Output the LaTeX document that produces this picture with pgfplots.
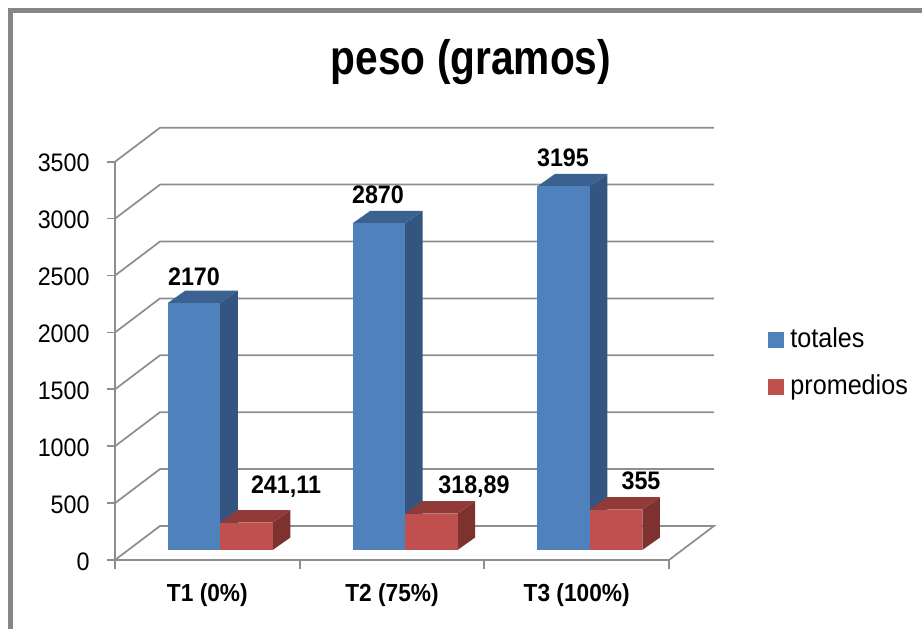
\documentclass[border=0pt]{standalone}
\usepackage{fontspec}
\setmainfont[FakeStretch=0.92]{Liberation Sans}
\newfontfamily\titlefont[FakeStretch=0.84]{Liberation Sans}
\usepackage{pgfplots}
\pgfplotsset{compat=1.18}
\definecolor{gridgray}{HTML}{8E8E8E}
\definecolor{framegray}{HTML}{868686}
\definecolor{bluefront}{HTML}{4F81BD}
\definecolor{blueside}{HTML}{34557F}
\definecolor{bluetop}{HTML}{3B6190}
\definecolor{redfront}{HTML}{C0504D}
\definecolor{redside}{HTML}{7D3230}
\definecolor{redtop}{HTML}{923A38}
% one 3D column: #1 left x, #2 value, #3 front, #4 side, #5 top
\newcommand\columnthreeD[5]{%
  \pgfmathsetmacro\xa{#1}%
  \pgfmathsetmacro\xb{#1+0.2843}%
  \pgfmathsetmacro\xc{#1+0.2843+0.0958}%
  \pgfmathsetmacro\xd{#1+0.0958}%
  \pgfmathsetmacro\ya{88}%
  \pgfmathsetmacro\yb{88+#2}%
  \pgfmathsetmacro\yc{88+#2+110}%
  \pgfmathsetmacro\ye{88+110}%
  \edef\temp{%
  \noexpand\addplot[forget plot,draw=none,fill=#4] coordinates {(\xb,\ya) (\xc,\ye) (\xc,\yc) (\xb,\yb)} --cycle;
  \noexpand\addplot[forget plot,draw=none,fill=#5] coordinates {(\xa,\yb) (\xd,\yc) (\xc,\yc) (\xb,\yb)} --cycle;
  \noexpand\addplot[forget plot,draw=none,fill=#3] coordinates {(\xa,\ya) (\xb,\ya) (\xb,\yb) (\xa,\yb)} --cycle;
  }\temp
}
\begin{document}
\begin{tikzpicture}
\useasboundingbox (0,0) rectangle (691.5pt,471.75pt);
\fill[framegray] (6pt,0pt) rectangle (9.75pt,465.75pt);
\fill[framegray] (6pt,462pt) rectangle (691.5pt,465.75pt);
\begin{axis}[
  at={(86.25pt,51.75pt)}, anchor=south west,
  scale only axis, width=415.5pt, height=298.7pt,
  xmin=-0.5, xmax=2.5, ymin=0, ymax=3500,
  clip=false,
  axis x line*=bottom, axis y line*=left,
  axis line style={draw=gridgray,line width=1.3pt,-},
  tick align=outside,
  xtick={0,1,2},
  xticklabels={T1 (0\%),T2 (75\%),T3 (100\%)},
  minor xtick={-0.5,0.5,1.5,2.5},
  ytick={0,500,1000,1500,2000,2500,3000,3500},
  x tick style={draw=none},
  minor x tick style={draw=gridgray,line width=1.3pt},
  y tick style={draw=gridgray,line width=1.3pt},
  minor tick length=6.5pt,
  major tick length=6pt,
  /pgf/number format/assume math mode=true,
  /pgf/number format/1000 sep={},
  tick label style={font=\fontsize{19}{22}\selectfont},
  x tick label style={font=\fontsize{18.5}{22}\selectfont\bfseries,yshift=-8pt},
  y tick label style={xshift=-9.5pt,yshift=-1pt},
  title={peso (gramos)},
  title style={at={(0.6426,1.231)},anchor=center,yshift=0pt,font=\titlefont\fontsize{36.3}{42}\selectfont\bfseries},
  legend style={at={(1.1787,0.497)},anchor=west,draw=none,fill=none,inner sep=0pt,
    font=\fontsize{20.5}{24}\selectfont,/tikz/row sep=15pt},
  legend cell align=left,
  legend image code/.code={\fill[#1] (0pt,-6.6pt) rectangle (11.25pt,4.65pt);\path (14.25pt,0pt);},
]
% walls and floor
\addplot[forget plot,gridgray,line width=1.3pt] coordinates {(-0.5,0) (-0.2563,299) (2.7436,299) (2.5,0)};
\addplot[forget plot,gridgray,line width=1.3pt] coordinates {(-0.5,500) (-0.2563,799) (2.7436,799)};
\addplot[forget plot,gridgray,line width=1.3pt] coordinates {(-0.5,1000) (-0.2563,1299) (2.7436,1299)};
\addplot[forget plot,gridgray,line width=1.3pt] coordinates {(-0.5,1500) (-0.2563,1799) (2.7436,1799)};
\addplot[forget plot,gridgray,line width=1.3pt] coordinates {(-0.5,2000) (-0.2563,2299) (2.7436,2299)};
\addplot[forget plot,gridgray,line width=1.3pt] coordinates {(-0.5,2500) (-0.2563,2799) (2.7436,2799)};
\addplot[forget plot,gridgray,line width=1.3pt] coordinates {(-0.5,3000) (-0.2563,3299) (2.7436,3299)};
\addplot[forget plot,gridgray,line width=1.3pt] coordinates {(-0.5,3500) (-0.2563,3799) (2.7436,3799)};
% columns
\columnthreeD{-0.2146}{2170}{bluefront}{blueside}{bluetop}
\columnthreeD{0.0697}{241.11}{redfront}{redside}{redtop}
\columnthreeD{0.7861}{2870}{bluefront}{blueside}{bluetop}
\columnthreeD{1.0704}{318.89}{redfront}{redside}{redtop}
\columnthreeD{1.7868}{3195}{bluefront}{blueside}{bluetop}
\columnthreeD{2.0711}{355}{redfront}{redside}{redtop}
\addlegendimage{bluefront}
\addlegendentry{totales}
\addlegendimage{redfront}
\addlegendentry{promedios}
% data labels
\tikzset{dl/.style={font=\fontsize{19}{22}\selectfont\bfseries,inner sep=0pt,anchor=center}}
\node[dl] at (axis cs:-0.0722,2487) {2170};
\node[dl] at (axis cs:0.9242,3207) {2870};
\node[dl] at (axis cs:1.9259,3533) {3195};
\node[dl] at (axis cs:0.4260,641) {241,11};
\node[dl] at (axis cs:1.4440,641) {318,89};
\node[dl] at (axis cs:2.3484,694) {355};
\end{axis}
\end{tikzpicture}
\end{document}
